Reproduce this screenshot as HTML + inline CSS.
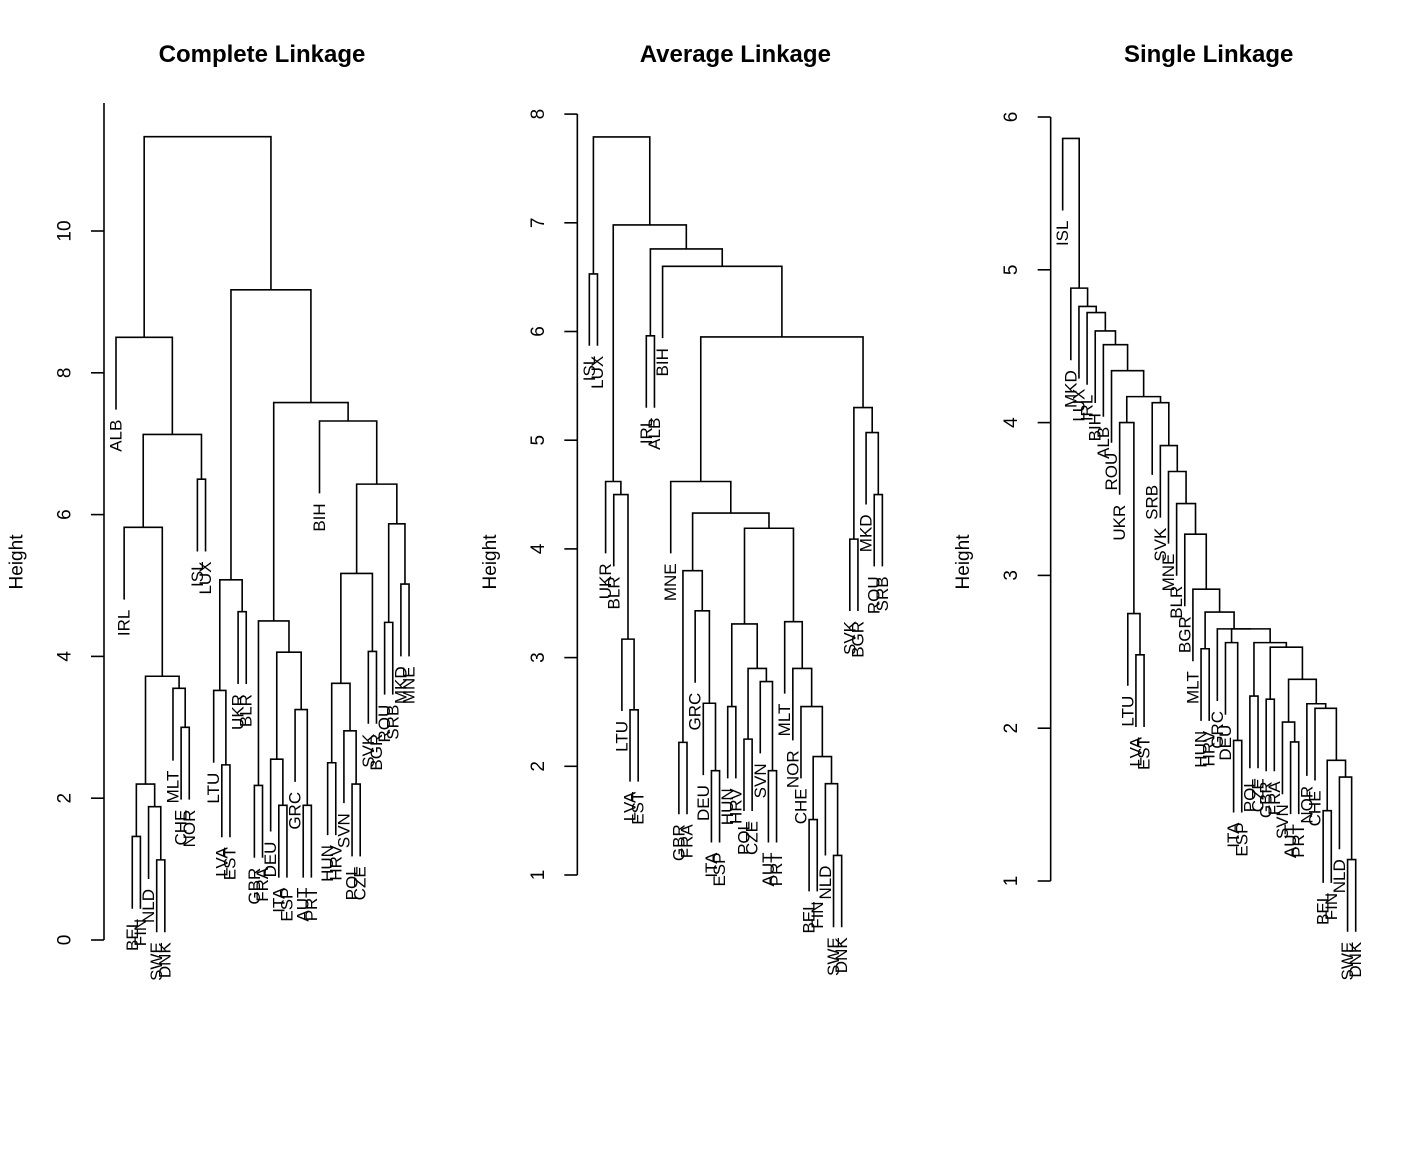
<!DOCTYPE html>
<html><head><meta charset="utf-8"><title>Dendrograms</title>
<style>html,body{margin:0;padding:0;background:#fff}svg{display:block}text{font-family:"Liberation Sans",Arial,sans-serif;fill:#000}</style>
</head><body>
<svg id="chart" width="1420" height="1150" viewBox="0 0 1420 1150" xmlns="http://www.w3.org/2000/svg"></svg>
<script>
// ---- Complete linkage ----
const completeLabels = ["ALB","IRL","BEL","FIN","NLD","SWE","DNK","MLT","CHE","NOR","ISL","LUX","LTU","LVA","EST","UKR","BLR","GBR","FRA","DEU","ITA","ESP","GRC","AUT","PRT","BIH","HUN","HRV","SVN","POL","CZE","SVK","BGR","ROU","SRB","MKD","MNE"];
const completeLeft  = ["BEL","SWE","NLD",0,"CHE","MLT",3,"IRL","ISL",7,"ALB","LVA","LTU","UKR",12,"GBR","ITA","DEU","AUT","GRC",17,15,"HUN","POL","SVN",22,"SVK",25,"ROU","MKD",28,27,"BIH",21,14,10];
const completeRight = ["FIN","DNK",1,2,"NOR",4,5,6,"LUX",8,9,"EST",11,"BLR",13,"FRA","ESP",16,"PRT",18,19,20,"HRV","CZE",23,24,"BGR",26,"SRB","MNE",29,30,31,32,33,34];
const completeHeight = [1.46,1.13,1.88,2.20,3.00,3.55,3.72,5.82,6.50,7.13,8.50,2.47,3.52,4.63,5.08,2.18,1.90,2.55,1.90,3.25,4.06,4.50,2.50,2.20,2.95,3.62,4.07,5.17,4.48,5.02,5.87,6.43,7.32,7.58,9.17,11.33];
const completeTicks = [0,2,4,6,8,10];

// ---- Average linkage ----
const averageLabels = ["ISL","LUX","UKR","BLR","LTU","LVA","EST","IRL","ALB","BIH","MNE","GBR","FRA","GRC","DEU","ITA","ESP","HUN","HRV","POL","CZE","SVN","AUT","PRT","MLT","NOR","CHE","BEL","FIN","NLD","SWE","DNK","SVK","BGR","MKD","ROU","SRB"];
const averageLeft  = ["ISL","LVA","LTU","BLR","UKR","IRL","GBR","ITA","DEU","GRC",6,"HUN","POL","AUT","SVN",12,11,"BEL","SWE","NLD",17,"CHE","NOR","MLT",16,10,"MNE","SVK","ROU","MKD",27,26,"BIH",5,4,0];
const averageRight = ["LUX","EST",1,2,3,"ALB","FRA","ESP",7,8,9,"HRV","CZE","PRT",13,14,15,"FIN","DNK",18,19,20,21,22,23,24,25,"BGR","SRB",28,29,30,31,32,33,34];
const averageHeight = [6.53,2.52,3.17,4.50,4.62,5.96,2.22,1.96,2.58,3.43,3.80,2.55,2.25,1.96,2.78,2.90,3.31,1.51,1.18,1.84,2.09,2.55,2.90,3.33,4.19,4.33,4.62,4.09,4.50,5.07,5.30,5.95,6.60,6.76,6.98,7.79];
const averageTicks = [1,2,3,4,5,6,7,8];

// ---- Single linkage ----
const singleLabels = ["ISL","MKD","LUX","IRL","BIH","ALB","ROU","UKR","LTU","LVA","EST","SRB","SVK","MNE","BLR","BGR","MLT","HUN","HRV","GRC","DEU","ITA","ESP","POL","CZE","GBR","FRA","SVN","AUT","PRT","NOR","CHE","BEL","FIN","NLD","SWE","DNK"];
const singleLeft  = ["SWE","NLD","BEL",2,"CHE","NOR","AUT","SVN",7,"GBR",9,"POL",11,"ITA","DEU",14,"GRC","HUN",17,"MLT","BGR","BLR","MNE","SVK","SRB","LVA","LTU","UKR",27,"ROU","ALB","BIH","IRL","LUX","MKD","ISL"];
const singleRight = ["DNK",0,"FIN",1,3,4,"PRT",6,5,"FRA",8,"CZE",10,"ESP",13,12,15,"HRV",16,18,19,20,21,22,23,"EST",25,26,24,28,29,30,31,32,33,34];
const singleHeight = [1.14,1.68,1.46,1.79,2.13,2.16,1.91,2.04,2.32,2.19,2.53,2.21,2.56,1.92,2.56,2.65,2.65,2.52,2.76,2.91,3.27,3.47,3.68,3.85,4.13,2.48,2.75,4.00,4.17,4.34,4.51,4.60,4.72,4.76,4.88,5.86];
const singleTicks = [1,2,3,4,5,6];

const svg = document.getElementById('chart');
const NS = 'http://www.w3.org/2000/svg';
function mk(tag, attrs, parent){ const e=document.createElementNS(NS,tag); for(const k in attrs) e.setAttribute(k,attrs[k]); (parent||svg).appendChild(e); return e; }

const panels = [
  {key:'complete', title:'Complete Linkage', ox:0, labels:completeLabels, L:completeLeft, R:completeRight, H:completeHeight, ticks:completeTicks, y0:940, h0:0, k:70.9, axisTop:103},
  {key:'average', title:'Average Linkage', ox:473.33, labels:averageLabels, L:averageLeft, R:averageRight, H:averageHeight, ticks:averageTicks, y0:875, h0:1, k:108.7, axisTop:114},
  {key:'single', title:'Single Linkage', ox:946.67, labels:singleLabels, L:singleLeft, R:singleRight, H:singleHeight, ticks:singleTicks, y0:881, h0:1, k:152.8, axisTop:117}
];

panels.forEach(p => {
  const g = mk('g', {});
  
  
  const yS = h => p.y0 - (h - p.h0) * p.k;
  const xS = i => p.ox + 116 + i * 8.14;
  const hang = 0.1 * (Math.max(...p.H) - Math.min(...p.H));

  const t = mk('text', {x:p.ox+262, y:62, 'text-anchor':'middle', 'font-size':24, 'font-weight':'bold'}, g);
  t.textContent = p.title;
  
  

  const ax = p.ox + 104;
  const axG = mk('g', {}, g);
  
  
  mk('line', {x1:ax, x2:ax, y1:yS(p.ticks[0]), y2:p.axisTop, stroke:'#000', 'stroke-width':1.6}, axG);
  p.ticks.forEach(v => {
    const y = yS(v);
    mk('line', {x1:ax-13, x2:ax, y1:y, y2:y, stroke:'#000', 'stroke-width':1.6}, axG);
    const tl = mk('text', {x:0, y:0, transform:`translate(${ax-39},${y}) rotate(-90)`, 'text-anchor':'middle', 'dominant-baseline':'central', 'font-size':19}, axG);
    tl.textContent = String(v);
    
    
  });
  const yl = mk('text', {x:0, y:0, transform:`translate(${p.ox+17},562) rotate(-90)`, 'text-anchor':'middle', 'dominant-baseline':'central', 'font-size':19}, g);
  yl.textContent = 'Height';
  
  

  const nodeX = [];
  const childX = c => typeof c === 'string' ? xS(p.labels.indexOf(c)) : nodeX[c];
  const childBottom = (c, hParent) => typeof c === 'string' ? yS(hParent - hang) : yS(p.H[c]);
  const treeG = mk('g', {}, g);
  
  
  for (let m = 0; m < p.H.length; m++) {
    const a = p.L[m], b = p.R[m], h = p.H[m];
    const xa = childX(a), xb = childX(b), ym = yS(h);
    nodeX[m] = (xa + xb) / 2;
    const path = mk('path', {d:`M${xa},${childBottom(a,h)}V${ym}H${xb}V${childBottom(b,h)}`, fill:'none', stroke:'#000', 'stroke-width':1.6}, treeG);
    
    
    [a, b].forEach(c => {
      if (typeof c === 'string') {
        const lx = xS(p.labels.indexOf(c));
        const ly = yS(h - hang) + 10;
        const lt = mk('text', {x:0, y:0, transform:`translate(${lx},${ly}) rotate(-90)`, 'text-anchor':'end', 'dominant-baseline':'central', 'font-size':17}, treeG);
        lt.textContent = c;
        
        
      }
    });
  }
});
</script>
</body></html>
